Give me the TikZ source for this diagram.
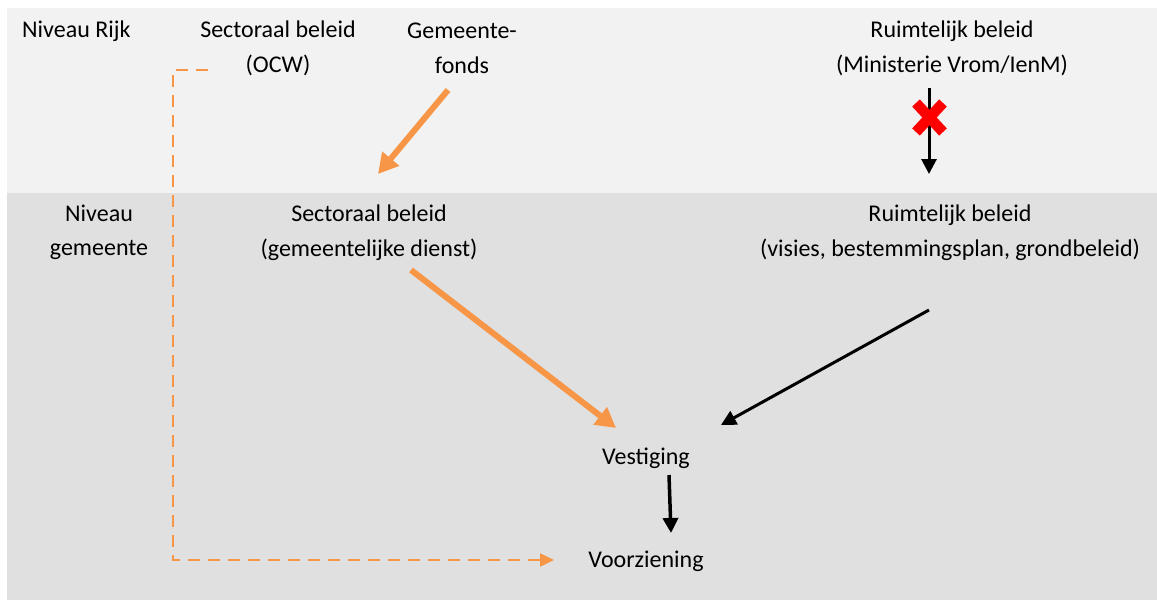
\documentclass[tikz,border=0pt]{standalone}
\usepackage{fontspec}
\setmainfont{Carlito}
\usetikzlibrary{arrows.meta}
\definecolor{bandtop}{HTML}{F2F2F2}
\definecolor{bandlow}{HTML}{E0E0E0}
\definecolor{accent}{HTML}{F79646}
\definecolor{crossred}{HTML}{FF0000}
\begin{document}
\begin{tikzpicture}[x=1pt,y=-1pt,
  lbl/.style={align=center, font=\fontsize{24}{34.5}\selectfont, inner sep=0pt},
  flowarrow/.style={accent, line width=6pt, -{Triangle[length=20pt,width=21pt]}},
  linkarrow/.style={black, line width=3pt, -{Triangle[length=15pt,width=15pt]}},
  fundarrow/.style={accent, line width=2.4pt, dash pattern=on 12pt off 8pt, -{Triangle[length=14pt,width=13pt]}}]
  \useasboundingbox (0,0) rectangle (1157,600);
  % level bands
  \fill[bandtop] (7,8) rectangle (1157,193);
  \fill[bandlow] (7,193) rectangle (1157,600);

  % national level
  \node[lbl, anchor=west] (rijk) at (22,31.5) {Niveau Rijk};
  \node[lbl] (ocw) at (278,48.5) {Sectoraal beleid\\(OCW)};
  \node[lbl] (fonds) at (462,48.5) {Gemeente-\\fonds};
  \node[lbl] (vrom) at (952,48.5) {Ruimtelijk beleid\\(Ministerie Vrom/IenM)};

  % municipal level
  \node[lbl] (gem) at (99,232.5) {Niveau\\gemeente};
  \node[lbl] (dienst) at (369,232.5) {Sectoraal beleid\\(gemeentelijke dienst)};
  \node[lbl] (visies) at (950,232.5) {Ruimtelijk beleid\\(visies, bestemmingsplan, grondbeleid)};

  \node[lbl] (vest) at (646,458.5) {Vestiging};
  \node[lbl] (voorz) at (646,561.5) {Voorziening};

  % connector end points
  \coordinate (fondsS) at (448,90);
  \coordinate (dienstN) at (378,174);
  \coordinate (dienstS) at (411,270);
  \coordinate (vestNW) at (616,428);
  \coordinate (visiesS) at (929,310);
  \coordinate (vestNE) at (721,425);
  \coordinate (vestS) at (669,475);
  \coordinate (voorzN) at (671,533);
  \coordinate (vromS) at (929,88);
  \coordinate (visiesN) at (929,174);
  \coordinate (ocwW) at (208,70);
  \coordinate (voorzW) at (554,560);

  % connectors
  \draw[flowarrow] (fondsS) -- (dienstN);
  \draw[flowarrow] (dienstS) -- (vestNW);
  \draw[linkarrow] (visiesS) -- (vestNE);
  \draw[linkarrow, line width=3.5pt] (vestS) -- (voorzN);
  \draw[linkarrow] (vromS) -- (visiesN);
  \draw[fundarrow] (ocwW) -| (173,560) -- (voorzW);

  % blocked link
  \draw[crossred, line width=10.5pt] (916,103) -- (943,132) (943,103) -- (916,132);
\end{tikzpicture}
\end{document}
